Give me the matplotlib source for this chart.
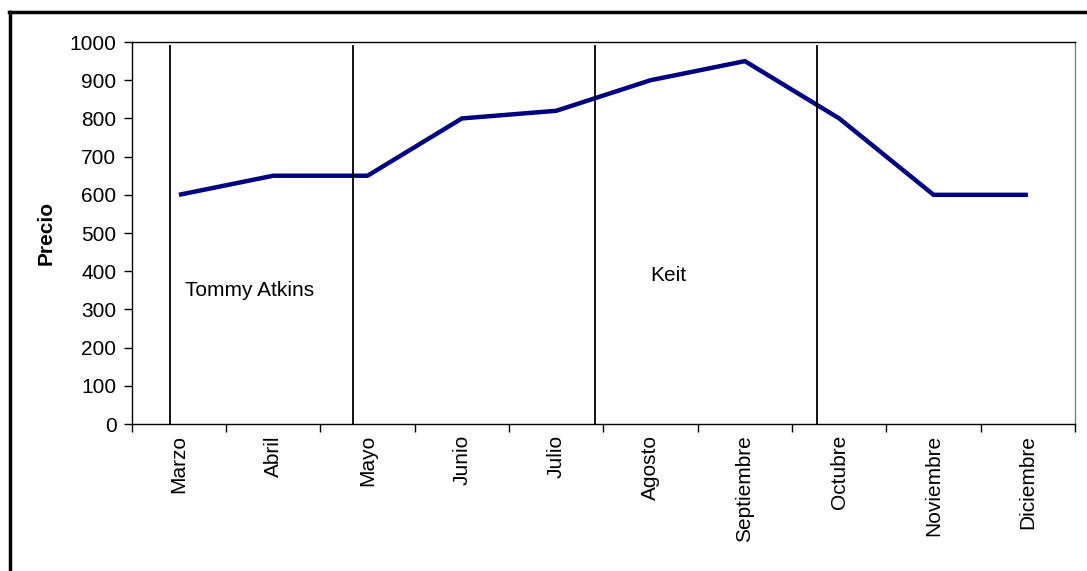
import matplotlib
matplotlib.use("Agg")
import matplotlib.pyplot as plt
from matplotlib.lines import Line2D

plt.rcParams['font.family'] = ['Liberation Sans', 'DejaVu Sans']

# data
meses = ["Marzo", "Abril", "Mayo", "Junio", "Julio", "Agosto",
         "Septiembre", "Octubre", "Noviembre", "Diciembre"]
precio = [600, 650, 650, 800, 820, 900, 950, 800, 600, 600]

# separator lines between varieties (category index units)
separadores = [-0.09, 1.85, 4.41, 6.76]
variedades = ["Tommy Atkins", "Keit"]
pos_texto = [(0.06, 350), (5.0, 388)]

fig = plt.figure(figsize=(10.87, 5.71), dpi=100)
ax = fig.add_axes([0.1212, 0.2574, 0.8678, 0.669])

x = list(range(len(meses)))
ax.plot(x, precio, color="#000080", linewidth=3.2, solid_capstyle="butt",
        solid_joinstyle="miter", zorder=3)

for s in separadores:
    ax.plot([s, s], [0, 990], color="black", linewidth=1.3, zorder=4,
            clip_on=False)

for t, (tx, ty) in zip(variedades, pos_texto):
    ax.text(tx, ty, t, fontsize=15, ha="left", va="center")

ax.set_xlim(-0.5, len(meses) - 0.5)
ax.set_ylim(0, 1000)
ax.set_yticks(range(0, 1001, 100))
ax.tick_params(axis="y", labelsize=15, length=6, width=1, pad=5)

ax.set_xticks([i + 0.5 for i in range(-1, len(meses))])
ax.set_xticklabels([])
ax.set_xticks(x, minor=True)
ax.set_xticklabels(meses, minor=True, rotation=90, fontsize=15, va="top")
ax.tick_params(axis="x", which="major", length=6, width=1)
ax.tick_params(axis="x", which="minor", length=0, pad=8)

ax.set_ylabel("Precio", fontsize=15, fontweight="bold", labelpad=10)

for sp in ["left", "bottom", "top"]:
    ax.spines[sp].set_color("black")
    ax.spines[sp].set_linewidth(1)
ax.spines["right"].set_color("#808080")
ax.spines["right"].set_linewidth(1)

# outer frame (only left and top visible in the image)
fig.add_artist(Line2D([0.0092, 0.0092], [0, 0.9795], transform=fig.transFigure,
                      color="black", linewidth=2.5))
fig.add_artist(Line2D([0.008, 1.0], [0.9795, 0.9795], transform=fig.transFigure,
                      color="black", linewidth=2.5))

fig.savefig("out.png", dpi=100, facecolor="white")
